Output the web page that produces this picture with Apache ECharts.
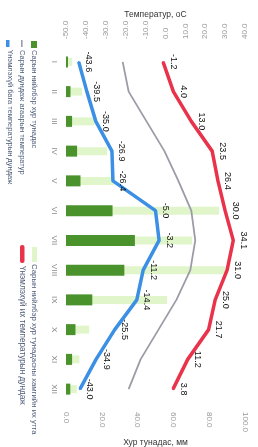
<!DOCTYPE html>
<html><head><meta charset="utf-8">
<script src="https://cdn.jsdelivr.net/npm/echarts@6/dist/echarts.min.js"></script>
<style>html,body{margin:0;padding:0;background:#fff}#c{width:258px;height:447px}</style>
</head><body><div id="c"></div>
<script>
const months = ['I','II','III','IV','V','VI','VII','VIII','IX','X','XI','XII'];
const tempMax = [-1.2, 4.0, 13.0, 23.5, 26.4, 30.0, 34.1, 31.0, 25.0, 21.7, 11.2, 3.8];
const tempMin = [-43.6, -39.5, -35.0, -26.9, -26.4, -5.0, -3.2, -11.2, -14.4, -25.5, -34.9, -43.0];
const tempMean = [-21.5, -18.5, -9.5, -0.5, 6.5, 13.0, 15.0, 12.5, 5.5, -3.5, -12.5, -18.5];
const precip = [1.1, 2.5, 3.4, 6.2, 8.1, 26.0, 38.5, 32.6, 14.7, 5.3, 3.4, 2.4];
const precipMax = [3.5, 9.0, 16.0, 23.0, 27.0, 85.5, 70.5, 89.0, 56.5, 13.0, 7.5, 6.0];
const legendNames = {
  precip: 'Сарын нийлбэр хур тунадас',
  mean: 'Сарын дундаж агаарын температур',
  min: 'Үнэмлэхүй бага температурын дундаж',
  precipMax: 'Сарын нийлбэр хур тунадасны хамгийн их утга',
  max: 'Үнэмлэхүй их температурын дундаж'
};
const tempAxisName = 'Температур, оС';
const precipAxisName = 'Хур тунадас, мм';

const C = {red:'#e8334a', blue:'#3b8fe4', gray:'#9c9ca8', dark:'#4a922c', light:'#e1f5ca'};
const chart = echarts.init(document.getElementById('c'));
const lbl = {show:true, position:'right', distance:9, rotate:-90, align:'center', verticalAlign:'middle',
  fontSize:9, color:'#111', fontFamily:'Liberation Sans', formatter:p=>p.value.toFixed(1)};
function legText(x, y, t, fs){
  return {type:'text', x:x, y:y, rotation:-Math.PI/2, style:{text:t, font:fs+'px "Liberation Sans"', fill:'#4d5a78', textAlign:'left', textVerticalAlign:'middle'}};
}
chart.setOption({
  animation:false,
  grid:{left:66, right:13, top:47, bottom:43, containLabel:false, outerBoundsMode:'none'},
  xAxis:[
    {type:'value', position:'top', min:-50, max:40, interval:10,
     name:tempAxisName, nameLocation:'middle', nameGap:28, nameMoveOverlap:false, nameTextStyle:{fontSize:8.5, color:'#333', fontFamily:'Liberation Sans'},
     axisLine:{show:false}, axisTick:{show:false}, splitLine:{show:false},
     axisLabel:{rotate:-90, fontSize:8, color:'#999', margin:8, fontFamily:'Liberation Sans', formatter:v=>v.toFixed(1)}},
    {type:'value', position:'bottom', min:0, max:100, interval:20,
     name:precipAxisName, nameLocation:'middle', nameGap:34, nameMoveOverlap:false, nameTextStyle:{fontSize:8.5, color:'#333', fontFamily:'Liberation Sans'},
     axisLine:{show:false}, axisTick:{show:false}, splitLine:{show:false},
     axisLabel:{rotate:-90, fontSize:8, color:'#999', margin:8, fontFamily:'Liberation Sans', formatter:v=>v.toFixed(1)}}
  ],
  yAxis:[
    {type:'category', data:months, inverse:true, axisLine:{show:false}, axisTick:{show:false},
     axisLabel:{rotate:-90, fontSize:8, color:'#888', margin:8, fontFamily:'Liberation Sans'}},
    {type:'category', data:months, inverse:true, show:false}
  ],
  series:[
    {type:'bar', name:legendNames.precipMax, data:precipMax, xAxisIndex:1, yAxisIndex:1, barWidth:8, itemStyle:{color:C.light}, z:1},
    {type:'bar', name:legendNames.precip, data:precip, xAxisIndex:1, yAxisIndex:0, barWidth:11, itemStyle:{color:C.dark}, z:2},
    {type:'line', name:legendNames.mean, data:tempMean, xAxisIndex:0, yAxisIndex:0, showSymbol:false, lineStyle:{color:C.gray, width:1.8}, itemStyle:{color:C.gray}, z:3},
    {type:'line', name:legendNames.min, data:tempMin, xAxisIndex:0, yAxisIndex:0, symbol:'circle', symbolSize:2, lineStyle:{color:C.blue, width:3.5}, itemStyle:{color:C.blue}, label:lbl, z:4},
    {type:'line', name:legendNames.max, data:tempMax, xAxisIndex:0, yAxisIndex:0, symbol:'circle', symbolSize:2, lineStyle:{color:C.red, width:3.5}, itemStyle:{color:C.red}, label:lbl, z:4}
  ],
  graphic:[
    {type:'rect', shape:{x:31, y:41, width:6, height:7}, style:{fill:C.dark}},
    legText(34, 50, legendNames.precip, 7.5),
    {type:'rect', shape:{x:21, y:40, width:1.6, height:7}, style:{fill:C.gray}},
    legText(22, 50, legendNames.mean, 7.5),
    {type:'rect', shape:{x:6, y:40, width:3.5, height:7}, style:{fill:C.blue}},
    legText(10, 50, legendNames.min, 7.5),
    {type:'rect', shape:{x:32, y:247, width:5, height:15}, style:{fill:C.light}},
    legText(34, 264, legendNames.precipMax, 7.8),
    {type:'rect', shape:{x:20, y:245, width:4.5, height:18, r:2}, style:{fill:C.red}},
    legText(22, 266, legendNames.max, 8.2)
  ]
});
</script></body></html>
